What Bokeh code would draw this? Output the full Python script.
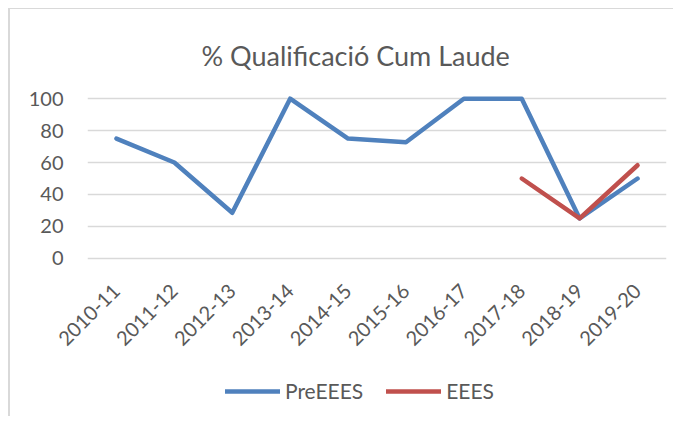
import math
from bokeh.plotting import figure
from bokeh.layouts import column
from bokeh.models import (FactorRange, Range1d, FixedTicker, Legend, LegendItem,
                          Title, InlineStyleSheet)
from bokeh.embed import file_html
from bokeh.resources import INLINE

title_text = "% Qualificació Cum Laude"
years = ["2010-11", "2011-12", "2012-13", "2013-14", "2014-15",
         "2015-16", "2016-17", "2017-18", "2018-19", "2019-20"]
pre_eees = [75, 60, 28.5, 100, 75, 72.7, 100, 100, 25, 50]
eees_years = ["2017-18", "2018-19", "2019-20"]
eees = [50, 25, 58.3]
y_ticks = [0, 20, 40, 60, 80, 100]
series_names = ["PreEEES", "EEES"]

FONT = "Lato"
TXT = "#595959"
BLUE = "#4f81bd"
RED = "#c0504d"
GRID = "#d9d9d9"

p = figure(width=665, height=352, x_range=FactorRange(*years),
           y_range=Range1d(-2, 102), output_backend="svg",
           toolbar_location=None,
           min_border_left=77, min_border_right=9,
           min_border_top=86, min_border_bottom=100)
p.stylesheets = [InlineStyleSheet(css=":host { margin-left: 8px; margin-top: 8px; border-left: 2px solid #d9d9d9; border-top: 1px solid #d9d9d9; }")]
p.outline_line_color = None
p.background_fill_color = "white"
p.border_fill_color = "white"

t = Title(text=title_text, align="left", offset=114,
          text_font=FONT, text_font_size="27px", text_font_style="normal",
          text_color=TXT, standoff=48)
p.add_layout(t, "above")

r1 = p.line(x=years, y=pre_eees, line_color=BLUE, line_width=4.5,
            line_join="round", line_cap="round")
r2 = p.line(x=eees_years, y=eees, line_color=RED, line_width=4.5,
            line_join="round", line_cap="round")

p.yaxis.ticker = FixedTicker(ticks=y_ticks)
p.yaxis.axis_line_color = None
p.yaxis.major_tick_line_color = None
p.yaxis.major_tick_out = 0
p.yaxis.major_tick_in = 0
p.yaxis.minor_tick_line_color = None
p.yaxis.major_label_standoff = 24
p.yaxis.major_label_text_font = FONT
p.yaxis.major_label_text_font_size = "20px"
p.yaxis.major_label_text_color = TXT

p.xaxis.axis_line_color = None
p.xaxis.major_tick_line_color = None
p.xaxis.major_tick_out = 0
p.xaxis.major_tick_in = 0
p.xaxis.major_label_orientation = math.pi / 4
p.xaxis.major_label_standoff = 26
p.xaxis.major_label_text_font = FONT
p.xaxis.major_label_text_font_size = "20px"
p.xaxis.major_label_text_color = TXT

p.xgrid.grid_line_color = None
p.ygrid.ticker = FixedTicker(ticks=y_ticks)
p.ygrid.grid_line_color = GRID
p.ygrid.grid_line_width = 1.5

# legend strip below the chart (series drawn out of view, only the legend shows)
p2 = figure(width=665, height=56, x_range=Range1d(0, 1), y_range=Range1d(1000, 1001),
            x_axis_type=None, y_axis_type=None, output_backend="svg",
            toolbar_location=None, min_border=0)
p2.stylesheets = [InlineStyleSheet(css=":host { margin-left: 8px; border-left: 2px solid #d9d9d9; }")]
p2.outline_line_color = None
p2.background_fill_color = "white"
p2.border_fill_color = "white"
p2.grid.visible = False
k1 = p2.line(x=list(range(len(pre_eees))), y=pre_eees, line_color=BLUE,
             line_width=4.5, line_cap="round")
k2 = p2.line(x=list(range(len(eees))), y=eees, line_color=RED,
             line_width=4.5, line_cap="round")

legend = Legend(items=[LegendItem(label=series_names[0], renderers=[k1]),
                       LegendItem(label=series_names[1], renderers=[k2])],
                orientation="horizontal", location=(138, 13),
                label_text_font=FONT, label_text_font_size="21px",
                label_text_color=TXT, glyph_width=55, glyph_height=24,
                label_height=24, label_standoff=5, spacing=23, padding=0,
                margin=0, border_line_color=None, background_fill_alpha=0)
p2.add_layout(legend)

layout = column(p, p2, spacing=0)
open("out.html", "w").write(file_html(layout, INLINE))
